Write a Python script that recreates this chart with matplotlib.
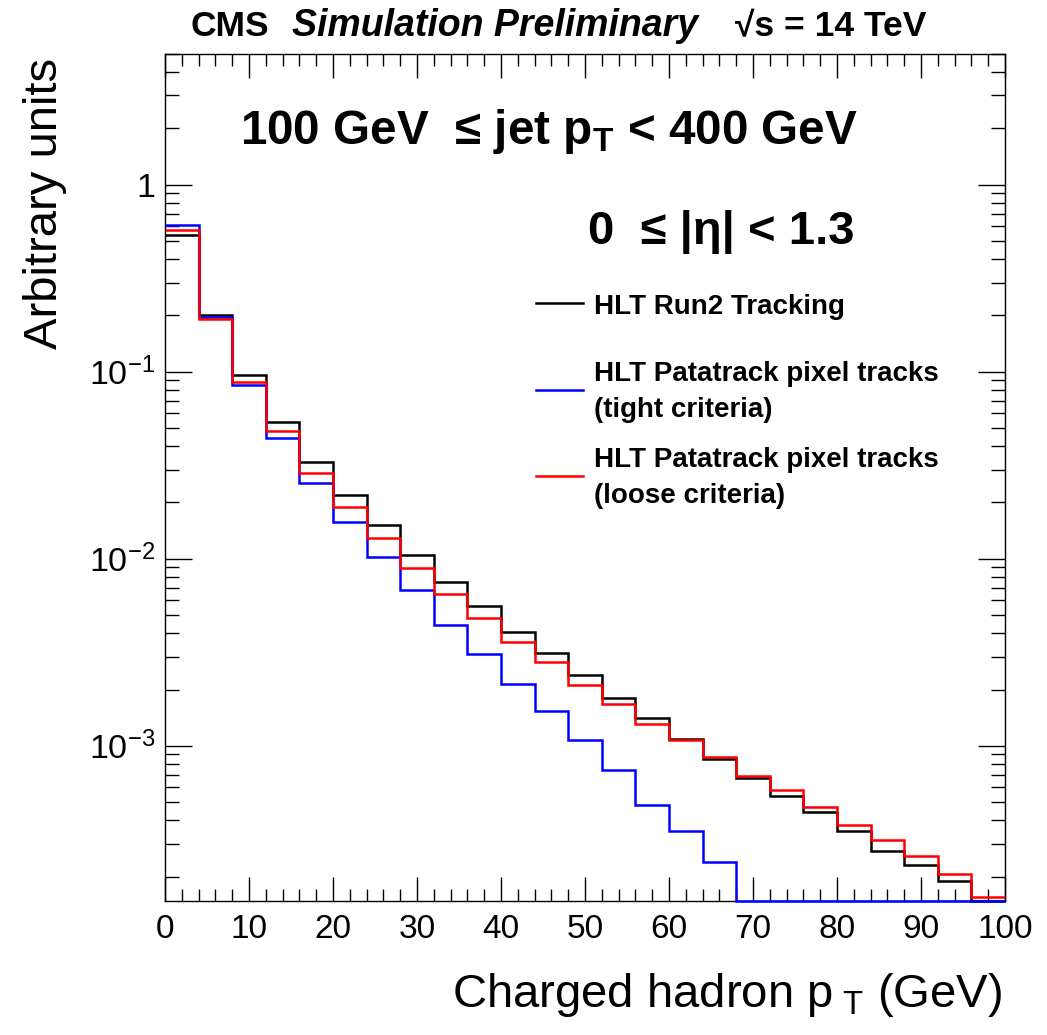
import numpy as np
import matplotlib
matplotlib.use("Agg")
import matplotlib.pyplot as plt
from matplotlib.lines import Line2D
from matplotlib.ticker import LogLocator, NullFormatter, FuncFormatter, MultipleLocator

plt.rcParams['font.family'] = ['Liberation Sans', 'DejaVu Sans']
plt.rcParams['mathtext.fontset'] = 'custom'
plt.rcParams['mathtext.rm'] = 'Liberation Sans'
plt.rcParams['mathtext.it'] = 'Liberation Sans:italic'
plt.rcParams['mathtext.bf'] = 'Liberation Sans:bold'

# ---- data ----
bin_edges = np.arange(0, 104, 4)  # 0..100 GeV, 4 GeV bins
run2 = [0.536, 0.200, 0.0955, 0.0538, 0.0331, 0.0220, 0.01507, 0.0105, 0.0075, 0.00562,
        0.00408, 0.00313, 0.00238, 0.00180, 0.00140, 0.00109, 0.000851, 0.000671, 0.000536,
        0.000440, 0.000351, 0.000275, 0.000230, 0.000190, 0.000140]
tight = [0.611, 0.196, 0.0849, 0.0442, 0.0254, 0.0158, 0.01028, 0.00683, 0.00443, 0.00310,
         0.00215, 0.00153, 0.001077, 0.000744, 0.000480, 0.000351, 0.000239, 0.0, 0.0,
         0.0, 0.0, 0.0, 0.0, 0.0, 0.0]
loose = [0.573, 0.191, 0.0885, 0.0483, 0.0289, 0.0189, 0.01295, 0.00891, 0.00647, 0.00482,
         0.00361, 0.00280, 0.00212, 0.00168, 0.00131, 0.00107, 0.00087, 0.000691, 0.000577,
         0.000473, 0.000377, 0.000312, 0.000259, 0.000206, 0.000155]
legend_lines = [["HLT Run2 Tracking"],
                ["HLT Patatrack pixel tracks", "(tight criteria)"],
                ["HLT Patatrack pixel tracks", "(loose criteria)"]]
colors = ["black", "#0000ff", "#ff0000"]
ymin, ymax = 1.48e-4, 5.0
xmin, xmax = 0, 100

W, H = 1047, 1035
fig = plt.figure(figsize=(W / 100, H / 100), dpi=100)
ax = fig.add_axes([165 / W, 1 - 901 / H, (1005 - 165) / W, (901 - 54) / H])

for vals, c in zip([run2, tight, loose], colors):
    v = np.maximum(np.asarray(vals, dtype=float), ymin)
    ax.stairs(v, bin_edges, color=c, lw=1.8, baseline=None, clip_on=False, zorder=3)

ax.set_yscale('log')
ax.set_xlim(xmin, xmax)
ax.set_ylim(ymin, ymax)

ax.xaxis.set_major_locator(MultipleLocator(10))
ax.xaxis.set_minor_locator(MultipleLocator(2))
ax.yaxis.set_major_locator(LogLocator(base=10, numticks=10))
ax.yaxis.set_minor_locator(LogLocator(base=10, subs=np.arange(2, 10), numticks=20))
ax.yaxis.set_minor_formatter(NullFormatter())


def yfmt(v, pos):
    e = int(round(np.log10(v)))
    if e == 0:
        return "1"
    return r"$10^{%d}$" % e


ax.yaxis.set_major_formatter(FuncFormatter(yfmt))
ax.tick_params(axis='both', which='both', direction='in', top=True, right=True, width=1.0, color='black')
ax.tick_params(axis='x', which='major', length=17, labelsize=24, pad=9)
ax.tick_params(axis='x', which='minor', length=8.5)
ax.tick_params(axis='y', which='major', length=19.5, labelsize=24.5, pad=7)
ax.tick_params(axis='y', which='minor', length=10)
for s in ax.spines.values():
    s.set_linewidth(1.0)

# axis titles
fig.text(45 / W, 1 - 58 / H, "Arbitrary units", rotation=90, ha='center', va='top', fontsize=34)
fig.text(1002 / W, 1 - 995 / H, r"Charged hadron p$_{\ \mathrm{T}}$ (GeV)", ha='right', va='center',
         fontsize=34)

# header
fig.text(190 / W, 1 - 36 / H, "CMS", fontsize=25.5, fontweight='bold', ha='left', va='baseline')
fig.text(292 / W, 1 - 36 / H, "Simulation Preliminary", fontsize=27, fontweight='bold', fontstyle='italic',
         ha='left', va='baseline')
fig.text(735 / W, 1 - 36 / H, "√s = 14 TeV", fontsize=25.5, fontweight='bold', ha='left', va='baseline')

# region texts
fig.text(240 / W, 1 - 132 / H, r"100 GeV  ≤ jet p$_{\mathbf{T}}$ < 400 GeV", fontsize=34.3, fontweight='bold',
         ha='left', va='center')
fig.text(855 / W, 1 - 232 / H, "0  ≤ |η| < 1.3", fontsize=34, fontweight='bold', ha='right', va='center')

# legend (drawn by hand to reproduce the ROOT layout)
handle_y = [303, 390, 476]
text_baselines = [[314], [381, 417], [467, 503]]
for c, hy, lines, bls in zip(colors, handle_y, legend_lines, text_baselines):
    fig.add_artist(Line2D([536 / W, 583 / W], [1 - hy / H, 1 - hy / H], color=c, lw=1.8,
                          transform=fig.transFigure))
    for txt, bl in zip(lines, bls):
        fig.text(594 / W, 1 - bl / H, txt, fontsize=20, fontweight='bold', ha='left', va='baseline')

fig.savefig("out.png", dpi=100, facecolor='white')
